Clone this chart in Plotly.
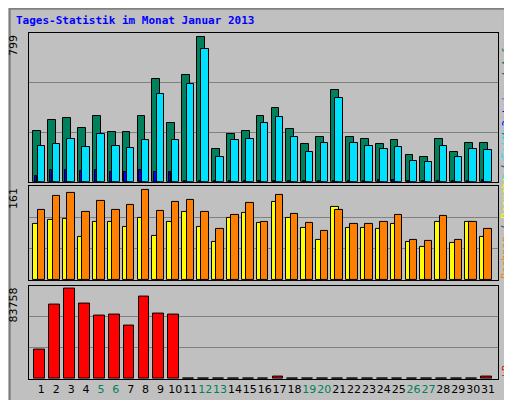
import plotly.graph_objects as go

days = list(range(1, 32))
weekend = [5, 6, 12, 13, 19, 20, 26, 27]
anfragen = [281,341,352,297,362,275,275,362,569,324,591,799,183,265,281,362,408,292,210,248,504,248,237,210,232,150,134,237,167,216,216]
dateien = [199,210,237,194,265,199,188,232,487,232,542,732,134,232,237,324,359,248,167,216,462,216,199,183,194,112,107,199,134,183,178]
seiten = [33,65,65,60,65,54,54,65,54,54,3,3,3,3,3,3,3,3,3,3,3,3,3,8,8,3,3,3,3,3,10]
besuche = [101,108,110,77,105,105,96,112,80,105,122,96,68,112,121,103,140,112,94,73,131,94,93,91,101,68,59,105,66,105,77]
rechner = [126,150,156,123,142,126,135,161,124,140,143,123,91,117,138,105,152,119,103,89,126,101,101,105,117,73,71,115,73,105,91]
kb = [27820,69090,83758,70000,59000,59920,49830,76430,60830,59920,0,0,0,0,0,0,2100,0,0,0,0,0,0,0,0,0,0,0,0,0,2100]

GREEN, CYAN, BLUE = "#00805C", "#00E0FF", "#0000FF"
YEL, ORA, RED = "#FFFF00", "#FF8000", "#FF0000"
LINE = dict(color="black", width=1)

def bar(y, color, off, w, ax):
    return go.Bar(x=days, y=[v if v > 0 else 0.004 * max(y) for v in y], marker=dict(color=color, line=LINE),
                  offset=off, width=w, xaxis="x" + ax, yaxis="y" + ax, showlegend=False, hoverinfo="skip")

fig = go.Figure([
    bar(anfragen, GREEN, -0.54, 0.52, "3"),
    bar(dateien, CYAN, -0.25, 0.5, "3"),
    bar(seiten, BLUE, -0.42, 0.16, "3"),
    bar(besuche, YEL, -0.54, 0.5, "2"),
    bar(rechner, ORA, -0.25, 0.5, "2"),
    bar(kb, RED, -0.47, 0.72, ""),
])

tops = {"": max(kb) * 94.7 / 91.3, "2": max(rechner) * 96 / 91.7, "3": max(anfragen) * 151 / 147}
doms = {"": [0, 0.27], "2": [0.285, 0.558], "3": [0.57, 1]}
ticktext = [f'<span style="color:{GREEN if d in weekend else "black"}">{d}</span>' for d in days]
for ax in ["", "2", "3"]:
    top = tops[ax]
    fig.layout["yaxis" + ax] = dict(domain=doms[ax], range=[0, top], tickvals=[top / 3, 2 * top / 3],
                                    showticklabels=False, showgrid=True, gridcolor="#808080", gridwidth=1,
                                    showline=True, linecolor="black", mirror=True, zeroline=False,
                                    anchor="x" + ax, ticks="")
    fig.layout["xaxis" + ax] = dict(range=[0.17, 31.67], anchor="y" + ax, showline=True, linecolor="black",
                                    mirror=True, showgrid=False, zeroline=False, ticks="", tickangle=0,
                                    tickvals=days, ticktext=ticktext, showticklabels=(ax == ""),
                                    tickfont=dict(family="DejaVu Sans", size=11))

mono = "DejaVu Sans Mono"
ann = [dict(text="<b>Tages-Statistik im Monat Januar 2013</b>", x=0, y=1, xref="paper", yref="paper",
            xanchor="left", yanchor="bottom", xshift=-15, yshift=4, showarrow=False,
            font=dict(color=BLUE, family=mono, size=11))]
for ax, label in [("3", "799"), ("2", "161"), ("", "83758")]:
    ann.append(dict(text=label, textangle=-90, xref="paper", yref="paper", x=-0.015, y=doms[ax][1],
                    xanchor="right", yanchor="top", showarrow=False,
                    font=dict(family="DejaVu Sans", size=11, color="black")))
right = [
    ("3", f'<span style="color:{CYAN}">Seiten</span> / <span style="color:{BLUE}">Dateien</span> / <span style="color:{GREEN}">Anfragen</span>'),
    ("2", f'<span style="color:{ORA}">Rechner</span> / <span style="color:{YEL}">Besuche</span> / <span style="color:{CYAN}">Seiten</span>'),
    ("", f'<span style="color:{RED}">kB</span>'),
]
for ax, t in right:
    ann.append(dict(text=t, textangle=-90, xref="paper", yref="paper", x=1.017, y=doms[ax][0],
                    xanchor="center", yanchor="bottom", showarrow=False,
                    font=dict(family=mono, size=10)))

fig.update_layout(
    width=512, height=400, margin=dict(l=21, r=22, t=25, b=24),
    paper_bgcolor="#C0C0C0", plot_bgcolor="#C0C0C0", barmode="overlay", bargap=0,
    annotations=ann,
    shapes=[dict(type="rect", xref="paper", yref="paper", x0=-0.041, x1=1.044, y0=-0.065, y1=1.07,
                 line=dict(color="#808080", width=2))],
)
fig.write_html("out.html")
